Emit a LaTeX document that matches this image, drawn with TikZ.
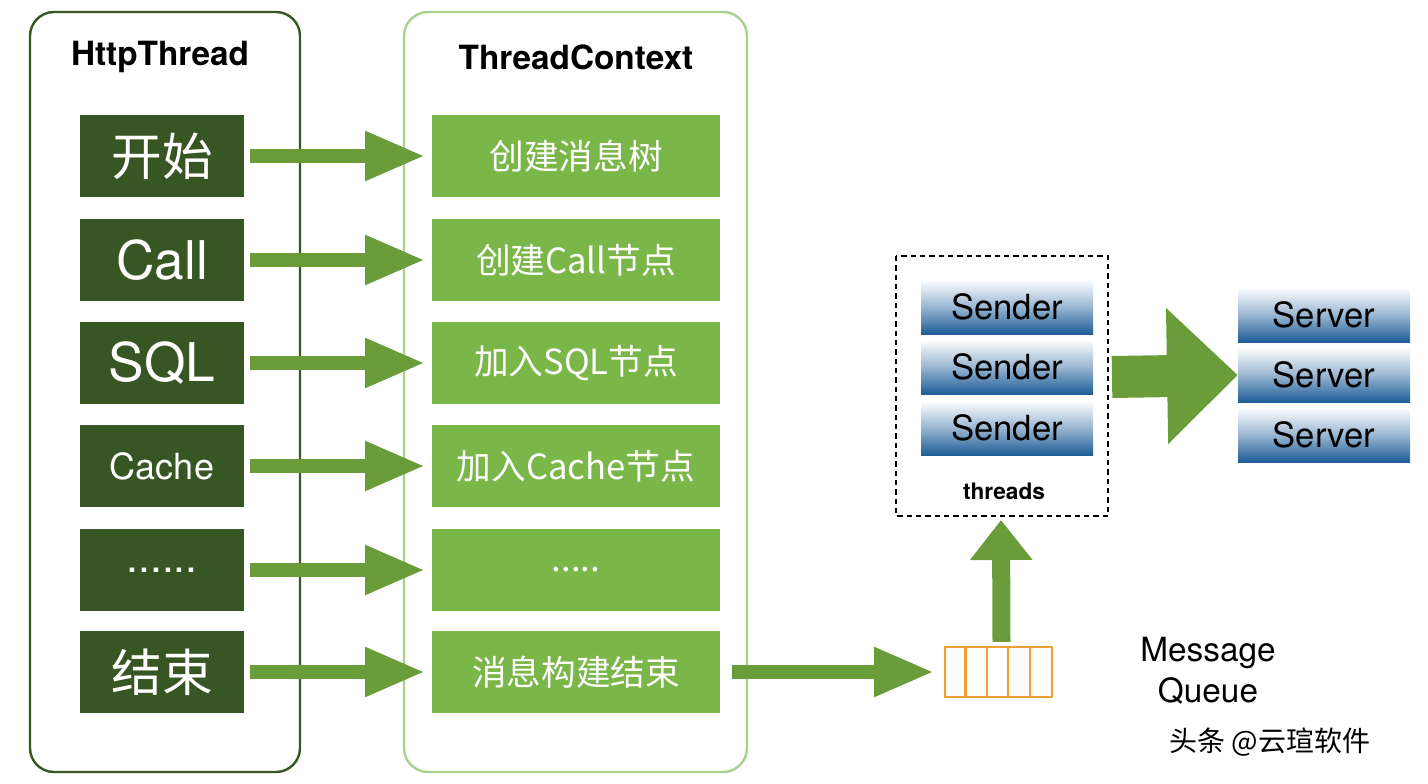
\documentclass[tikz,border=0pt]{standalone}
\usepackage{fontspec}
\setmainfont{TeX Gyre Heros}
\newfontfamily\cjk{Noto Sans CJK SC}
\newfontfamily\cjkl{Noto Sans CJK SC Light}
\usetikzlibrary{arrows.meta,calc}
\definecolor{dk}{HTML}{375623}
\definecolor{lg}{HTML}{7AB648}
\definecolor{ar}{HTML}{6A9C3A}
\definecolor{bd}{HTML}{A9D18E}
\definecolor{bl}{HTML}{1C5C97}
\definecolor{og}{HTML}{F0A030}
\newcommand\sixdots{......}
\newcommand\fivedots{.....}
\begin{document}
\begin{tikzpicture}[x=0.75pt,y=-0.75pt,
  lb/.style={fill=dk,text=white,minimum width=123pt,minimum height=61.5pt,inner sep=0pt},
  rb/.style={fill=lg,text=white,minimum width=216pt,minimum height=61.5pt,inner sep=0pt,font=\cjk\fontsize{26}{26}\selectfont},
  sb/.style={top color=white,bottom color=bl,middle color=bl!45,shading angle=0,minimum width=129pt,minimum height=41.25pt,inner sep=0pt,font=\fontsize{26}{26}\selectfont},
  ga/.style={draw=ar,line width=10.5pt,-{Triangle[length=45pt,width=34.5pt]}},
  ttl/.style={font=\bfseries\fontsize{25}{25}\selectfont}]
\useasboundingbox (0,0) rectangle (1428,784);
\draw[dk,line width=1.8pt,rounded corners=18pt] (30,12) rectangle (300,772);
\draw[bd,line width=1.8pt,rounded corners=18pt] (404,12) rectangle (747,772);
\node[ttl] (t1) at (160,57) {HttpThread};
\node[ttl] (t2) at (576,57) {ThreadContext};
\foreach \y/\n/\lt/\rt/\f in {
 156/a/{\cjk 开始}/创建消息树/38,
 260/b/Call/创建Call节点/40,
 363/c/SQL/加入SQL节点/40,
 466/d/Cache/加入Cache节点/27,
 570/e/\sixdots/\fivedots/32,
 672/f/{\cjk 结束}/消息构建结束/38}{
  \node[lb,font=\fontsize{\f}{\f}\selectfont] (L\n) at (162,\y) {\lt};
  \node[rb] (R\n) at (576,\y) {\rt};
  \draw[ga,shorten <=4.5pt,shorten >=5pt] (L\n) -- (R\n);
}
\node[draw=og,line width=1.6pt,minimum width=80pt,minimum height=37.5pt,inner sep=0pt] (q) at (998.5,672) {};
\foreach \i in {1,2,3,4} \draw[og,line width=1.6pt] ($(q.north west)+(\i*21.4,0)$) -- ($(q.south west)+(\i*21.4,0)$);
\coordinate (s0) at ($(Rf.east)+(12,0)$);
\draw[ga] (s0) -- ($(q.west)+(-10,0)$);
\draw[dashed,line width=1.5pt,dash pattern=on 4pt off 3pt] (896,256) rectangle (1108,516);
\coordinate (th) at (1001,520);
\node[sb] (s1n) at (1007,307) {Sender};
\node[sb] (s2n) at (1007,367) {Sender};
\node[sb] (s3n) at (1007,428) {Sender};
\node[font=\bfseries\fontsize{17}{17}\selectfont] (thr) at (1004,491) {threads};
\node[sb] (v1) at (1324,315) {Server};
\node[sb] (v2) at (1324,375) {Server};
\node[sb] (v3) at (1324,435) {Server};
\coordinate (q0) at ($(q.north)+(3,-4)$);
\draw[draw=ar,line width=13.5pt,-{Triangle[length=30pt,width=45pt]}] (q0) -- (th);
\coordinate (b0) at (1112,377);
\draw[draw=ar,line width=31.5pt,-{Triangle[length=53pt,width=99pt]}] (b0) -- (v2.west);
\node[font=\fontsize{25}{31}\selectfont,align=center] (mq) at (1208,671) {Message\\Queue};
\node[font=\cjk\fontsize{21}{21}\selectfont] (wm) at (1270,742) {头条 @云瑄软件};
\end{tikzpicture}
\end{document}
